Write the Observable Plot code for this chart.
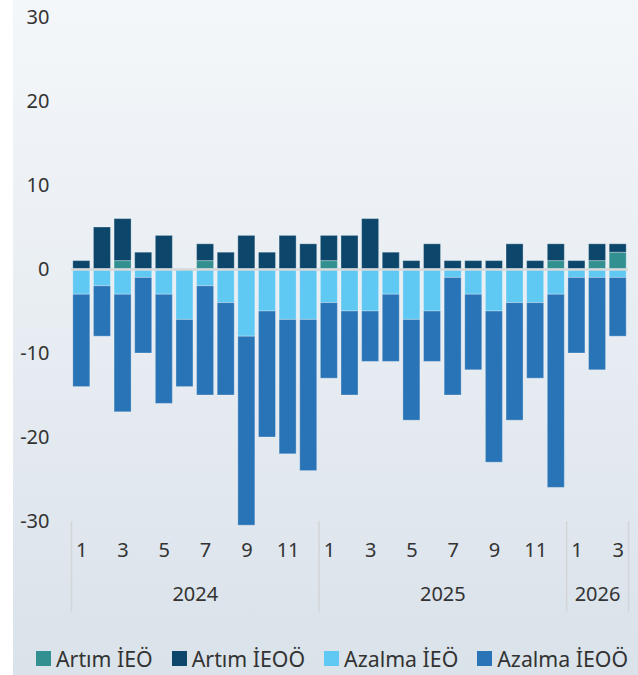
<!DOCTYPE html>
<html>
<head>
<meta charset="utf-8">
<script src="https://cdn.jsdelivr.net/npm/d3@7"></script>
<script src="https://cdn.jsdelivr.net/npm/@observablehq/plot@0.6"></script>
<style>
  html, body { margin: 0; padding: 0; background: #ffffff; width: 638px; height: 675px; overflow: hidden; }
  #panel { position: absolute; left: 13px; top: 0; width: 625px; height: 675px;
           background: linear-gradient(to bottom, #f4f7fa 0%, #dae2ea 100%); }
  #chart { position: absolute; left: 0; top: 0; }
  #legend { position: absolute; left: 36px; top: 644px; display: flex; align-items: center;
            font-family: "Noto Sans", sans-serif; font-size: 21.3px; color: #333; white-space: nowrap; }
  .item { display: flex; align-items: center; margin-right: 19px; }
  .sw { width: 15px; height: 15px; margin-right: 5px; }
</style>
</head>
<body>
<div id="panel"></div>
<div id="chart"></div>
<div id="legend"></div>
<script>
const years = ["2024", "2025", "2026"];
const monthsPerYear = [12, 12, 3];
const seriesNames = ["Artım İEÖ", "Artım İEOÖ", "Azalma İEÖ", "Azalma İEOÖ"];
const seriesColors = ["#339090", "#0c466a", "#5fc8f3", "#2974b7"];

const artimIEO   = [0,0,1,0,0,0,1,0,0,0,0,0, 1,0,0,0,0,0,0,0,0,0,0,1, 0,1,2];
const artimIEOO  = [1,5,5,2,4,0,2,2,4,2,4,3, 3,4,6,2,1,3,1,1,1,3,1,2, 1,2,1];
const azalmaIEO  = [-3,-2,-3,-1,-3,-6,-2,-4,-8,-5,-6,-6, -4,-5,-5,-3,-6,-5,-1,-3,-5,-4,-4,-3, -1,-1,-1];
const azalmaIEOO = [-11,-6,-14,-9,-13,-8,-13,-11,-22.5,-15,-16,-18, -9,-10,-6,-8,-12,-6,-14,-9,-18,-14,-9,-23, -9,-11,-7];
const yTicks = [-30, -20, -10, 0, 10, 20, 30];

// month index list
const monthLabels = [];
years.forEach((y, yi) => { for (let m = 1; m <= monthsPerYear[yi]; m++) monthLabels.push(String(m)); });
const n = monthLabels.length;

const seriesValues = [artimIEO, artimIEOO, azalmaIEO, azalmaIEOO];
const data = [];
seriesNames.forEach((s, si) => {
  seriesValues[si].forEach((v, i) => data.push({i, series: s, value: v}));
});

// year groups
const groups = [];
let start = 0;
years.forEach((y, yi) => {
  const end = start + monthsPerYear[yi];
  groups.push({year: y, mid: (start + end - 1) / 2, start: start - 0.5, end: end - 0.5});
  start = end;
});
const separators = [groups[0].start, ...groups.map(g => g.end)];

const chart = Plot.plot({
  width: 638,
  height: 620,
  marginLeft: 71,
  marginRight: 10,
  marginTop: 17,
  marginBottom: 99,
  style: {background: "transparent", fontFamily: "Noto Sans, sans-serif", fontSize: "20px", color: "#333", overflow: "visible"},
  x: {domain: [-0.5, n - 0.5], axis: null},
  y: {domain: [-30, 30], axis: null},
  color: {domain: seriesNames, range: seriesColors},
  marks: [
    Plot.axisY({ticks: yTicks, tickSize: 0, tickPadding: 22, tickFormat: d => String(d), fontSize: 20, fill: "#333", label: null}),
    Plot.rectY(data, {
      x1: d => d.i - 0.5, x2: d => d.i + 0.5, y: "value", fill: "series",
      order: seriesNames, insetLeft: 1.8, insetRight: 1.8,
      stroke: "#ffffff", strokeOpacity: 0.3, strokeWidth: 1
    }),
    Plot.ruleY([0], {stroke: "#d6d8da", strokeWidth: 2.5}),
    Plot.axisX({ticks: d3.range(0, n, 2), tickFormat: i => monthLabels[i], tickSize: 0, tickPadding: 21, fontSize: 20, fill: "#333", label: null}),
    Plot.axisX({ticks: separators, tickFormat: () => "", tickSize: 91, stroke: "#d3d6d9", strokeWidth: 1.5, label: null}),
    Plot.text(groups, {x: "mid", text: "year", frameAnchor: "bottom", dy: 79, fontSize: 20, fill: "#333"})
  ]
});
document.getElementById("chart").appendChild(chart);

const legend = document.getElementById("legend");
seriesNames.forEach((s, si) => {
  const item = document.createElement("div");
  item.className = "item";
  const sw = document.createElement("div");
  sw.className = "sw";
  sw.style.background = seriesColors[si];
  const label = document.createElement("span");
  label.textContent = s;
  item.appendChild(sw);
  item.appendChild(label);
  legend.appendChild(item);
});
</script>
</body>
</html>
